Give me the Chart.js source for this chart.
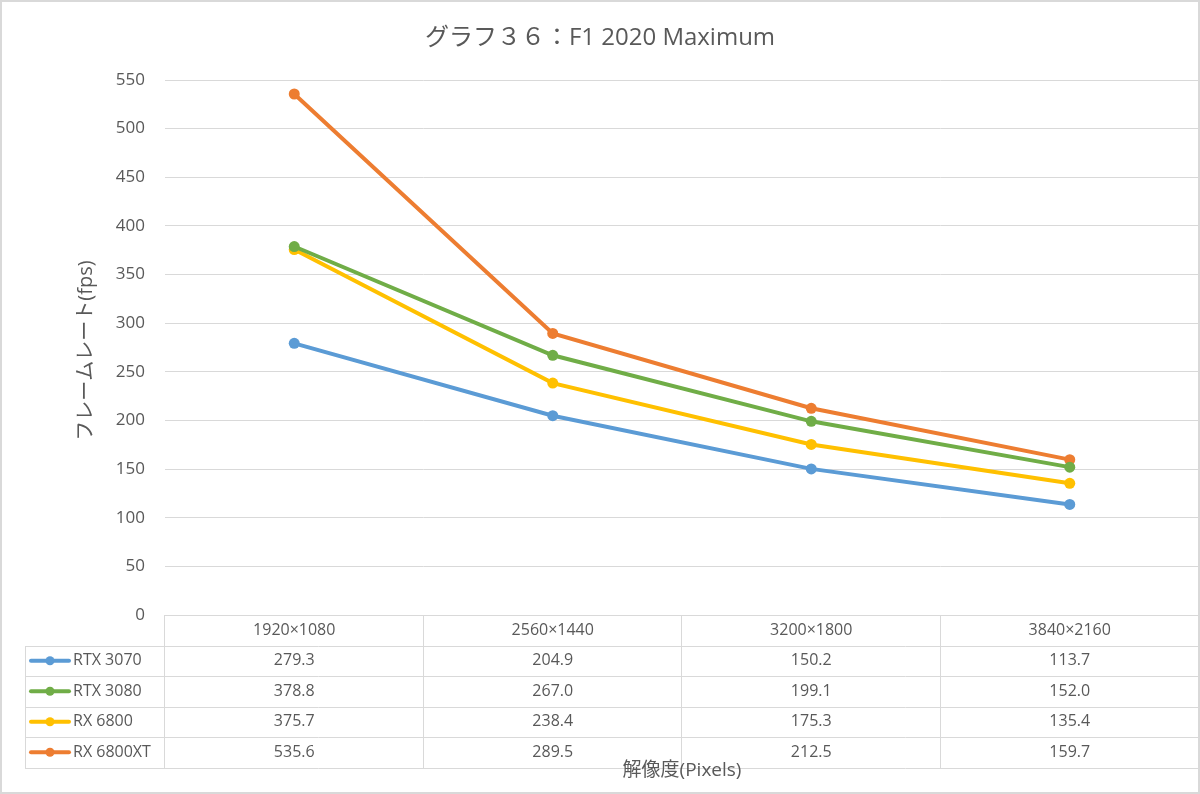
<!DOCTYPE html>
<html>
<head>
<meta charset="utf-8">
<script src="https://cdn.jsdelivr.net/npm/chart.js@4/dist/chart.umd.min.js"></script>
<style>
  html, body { margin: 0; padding: 0; background: #fff; }
  #wrap { width: 1200px; height: 794px; position: relative; }
</style>
</head>
<body>
<div id="wrap"><canvas id="chart" width="1200" height="794"></canvas></div>
<script>
// Chart data
const categories = ['1920×1080', '2560×1440', '3200×1800', '3840×2160'];
const seriesNames = ['RTX 3070', 'RTX 3080', 'RX 6800', 'RX 6800XT'];
const rtx3070 = [279.3, 204.9, 150.2, 113.7];
const rtx3080 = [378.8, 267.0, 199.1, 152.0];
const rx6800 = [375.7, 238.4, 175.3, 135.4];
const rx6800xt = [535.6, 289.5, 212.5, 159.7];
const seriesColors = ['#5B9BD5', '#70AD47', '#FFC000', '#ED7D31'];
const yTickMax = 550;
const yTickStep = 50;

const titleText = 'グラフ３６：F1 2020 Maximum';
const yTitle = 'フレームレート(fps)';
const xTitle = '解像度(Pixels)';

const FONT = "'Open Sans', 'Noto Sans CJK JP', sans-serif";
const TEXT = '#595959';
const LINE = '#d9d9d9';

const allSeries = [rtx3070, rtx3080, rx6800, rx6800xt];

// Title, axis titles and the data table under the plot
const tablePlugin = {
    id: 'dataTable',
    beforeDraw(chart) {
        const ctx = chart.ctx;
        ctx.save();
        ctx.fillStyle = '#fff';
        ctx.fillRect(0, 0, chart.width, chart.height);
        ctx.restore();
    },
    afterDraw(chart) {
        const ctx = chart.ctx;
        const area = chart.chartArea;
        const x = chart.scales.x;
        const rowH = 30.5;
        const top = area.bottom;
        const legendLeft = 25;

        // column boundaries from the category scale
        const half = (x.getPixelForValue(1) - x.getPixelForValue(0)) / 2;
        const bounds = categories.map((c, i) => x.getPixelForValue(i) - half);
        bounds.push(x.getPixelForValue(categories.length - 1) + half);

        ctx.save();
        ctx.strokeStyle = LINE;
        ctx.lineWidth = 1;

        // horizontal lines
        for (let r = 0; r <= seriesNames.length + 1; r++) {
            const y = Math.round(top + r * rowH) + 0.5;
            ctx.beginPath();
            ctx.moveTo(r === 0 ? bounds[0] : legendLeft, y);
            ctx.lineTo(bounds[bounds.length - 1], y);
            ctx.stroke();
        }
        // vertical lines
        const bottom = Math.round(top + (seriesNames.length + 1) * rowH) + 0.5;
        bounds.forEach(b => {
            ctx.beginPath();
            ctx.moveTo(Math.round(b) - 0.5, top);
            ctx.lineTo(Math.round(b) - 0.5, bottom);
            ctx.stroke();
        });
        ctx.beginPath();
        ctx.moveTo(legendLeft + 0.5, Math.round(top + rowH));
        ctx.lineTo(legendLeft + 0.5, bottom);
        ctx.stroke();

        // header
        ctx.fillStyle = TEXT;
        ctx.font = '16px ' + FONT;
        ctx.textAlign = 'center';
        ctx.textBaseline = 'middle';
        categories.forEach((c, i) => {
            ctx.fillText(c, x.getPixelForValue(i), top + rowH / 2);
        });

        // rows
        seriesNames.forEach((name, r) => {
            const cy = top + (r + 1.5) * rowH;
            ctx.strokeStyle = seriesColors[r];
            ctx.lineWidth = 4;
            ctx.lineCap = 'round';
            ctx.beginPath();
            ctx.moveTo(31, cy);
            ctx.lineTo(69, cy);
            ctx.stroke();
            ctx.fillStyle = seriesColors[r];
            ctx.beginPath();
            ctx.arc(50, cy, 4.5, 0, Math.PI * 2);
            ctx.fill();

            ctx.fillStyle = TEXT;
            ctx.textAlign = 'left';
            ctx.fillText(name, 73, cy);
            ctx.textAlign = 'center';
            allSeries[r].forEach((v, i) => {
                ctx.fillText(v.toFixed(1), x.getPixelForValue(i), cy);
            });
        });

        // chart title
        ctx.font = '24px ' + FONT;
        ctx.fillText(titleText, 600, 38);

        // x axis title
        ctx.font = '19px ' + FONT;
        ctx.fillText(xTitle, (area.left + area.right) / 2, 771);

        // y axis title
        ctx.translate(86, (area.top + area.bottom) / 2 + 3);
        ctx.rotate(-Math.PI / 2);
        ctx.font = '20px ' + FONT;
        ctx.fillText(yTitle, 0, 0);
        ctx.restore();

        // outer frame
        ctx.save();
        ctx.strokeStyle = LINE;
        ctx.lineWidth = 2;
        ctx.strokeRect(1, 1, chart.width - 2, chart.height - 2);
        ctx.restore();
    }
};

const datasets = seriesNames.map((name, i) => ({
    label: name,
    data: allSeries[i],
    borderColor: seriesColors[i],
    backgroundColor: seriesColors[i],
    borderWidth: 4,
    pointRadius: 5.5,
    pointHoverRadius: 5.5,
    pointBorderWidth: 0,
    tension: 0
}));

new Chart(document.getElementById('chart'), {
    type: 'line',
    data: { labels: categories, datasets: datasets },
    plugins: [tablePlugin],
    options: {
        responsive: false,
        animation: false,
        layout: { autoPadding: false, padding: { top: 80, right: 1, bottom: 179, left: 0 } },
        plugins: {
            legend: { display: false },
            title: { display: false },
            tooltip: { enabled: false }
        },
        scales: {
            x: {
                type: 'category',
                offset: true,
                display: false
            },
            y: {
                min: 0,
                max: yTickMax,
                afterFit(scale) { scale.width = 165; },
                border: { display: false },
                grid: { color: LINE, lineWidth: 1, drawTicks: false },
                ticks: {
                    stepSize: yTickStep,
                    padding: 20,
                    color: TEXT,
                    font: { family: FONT, size: 17 }
                }
            }
        }
    }
});
</script>
</body>
</html>
